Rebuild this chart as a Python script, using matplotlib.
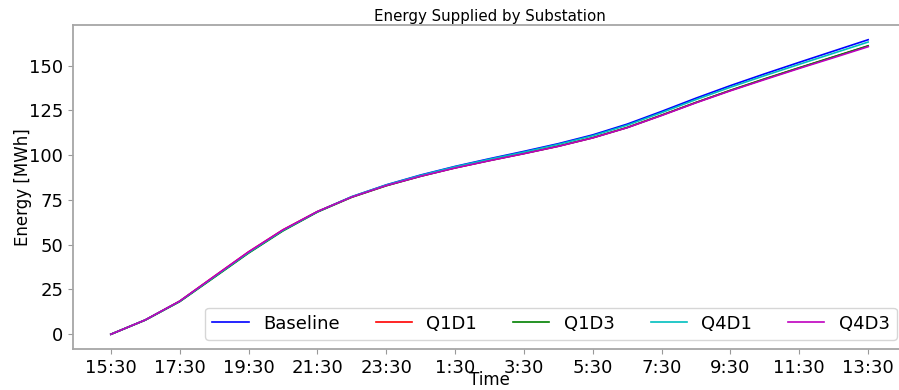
import matplotlib
matplotlib.use("Agg")
import matplotlib.pyplot as plt

# hours after 15:30
hours = list(range(23))
tick_labels = ['15:30', '17:30', '19:30', '21:30', '23:30', '1:30',
               '3:30', '5:30', '7:30', '9:30', '11:30', '13:30']

baseline = [0, 8.0, 18.4, 32.0, 45.6, 58.0, 68.4, 76.8, 83.4, 88.9, 93.7, 98.0,
            102.1, 106.4, 111.3, 117.3, 124.4, 131.8, 138.8, 145.4, 151.8, 158.1, 164.4]
q1d1 = [0, 8.0, 18.5, 32.3, 46.0, 58.3, 68.5, 76.6, 83.0, 88.3, 92.9, 97.0,
        100.9, 105.0, 109.7, 115.4, 122.3, 129.4, 136.1, 142.5, 148.7, 154.8, 160.9]
q1d3 = [0, 7.9, 18.2, 31.7, 45.3, 57.7, 68.2, 76.5, 82.9, 88.2, 92.9, 97.0,
        100.9, 105.0, 109.7, 115.4, 122.3, 129.4, 136.2, 142.6, 148.8, 154.9, 161.0]
q4d1 = [0, 8.0, 18.4, 32.0, 45.6, 58.0, 68.4, 76.8, 83.3, 88.7, 93.5, 97.7,
        101.7, 106.0, 110.8, 116.7, 123.7, 131.0, 137.9, 144.4, 150.7, 156.9, 163.1]
q4d3 = [0, 8.0, 18.5, 32.3, 46.0, 58.3, 68.5, 76.6, 83.0, 88.2, 92.8, 96.9,
        100.8, 104.9, 109.6, 115.3, 122.1, 129.2, 135.9, 142.2, 148.4, 154.4, 160.5]

fig = plt.figure(figsize=(8.99, 3.9), dpi=100)
ax = fig.add_axes([0.0812, 0.1051, 0.9266, 0.8308])

ax.plot(hours, baseline, color='b', lw=1.2, label='Baseline')
ax.plot(hours, q1d1, color='r', lw=1.2, label='Q1D1')
ax.plot(hours, q1d3, color='g', lw=1.2, label='Q1D3')
ax.plot(hours, q4d1, color='c', lw=1.2, label='Q4D1')
ax.plot(hours, q4d3, color='m', lw=1.2, label='Q4D3')

ax.set_xticks(hours[::2])
ax.set_xticklabels(tick_labels)
ax.set_yticks([0, 25, 50, 75, 100, 125, 150])
ax.tick_params(labelsize=13, color='0.6')
for s in ax.spines.values():
    s.set_color('0.65')
    s.set_linewidth(1.3)

ax.set_title('Energy Supplied by Substation', fontsize=10.8, pad=3)
ax.set_xlabel('Time', fontsize=12, labelpad=-4)
ax.set_ylabel('Energy [MWh]', fontsize=12, labelpad=-2)
ax.legend(loc='lower right', ncol=5, fontsize=13)

fig.savefig('out.png', dpi=100)
